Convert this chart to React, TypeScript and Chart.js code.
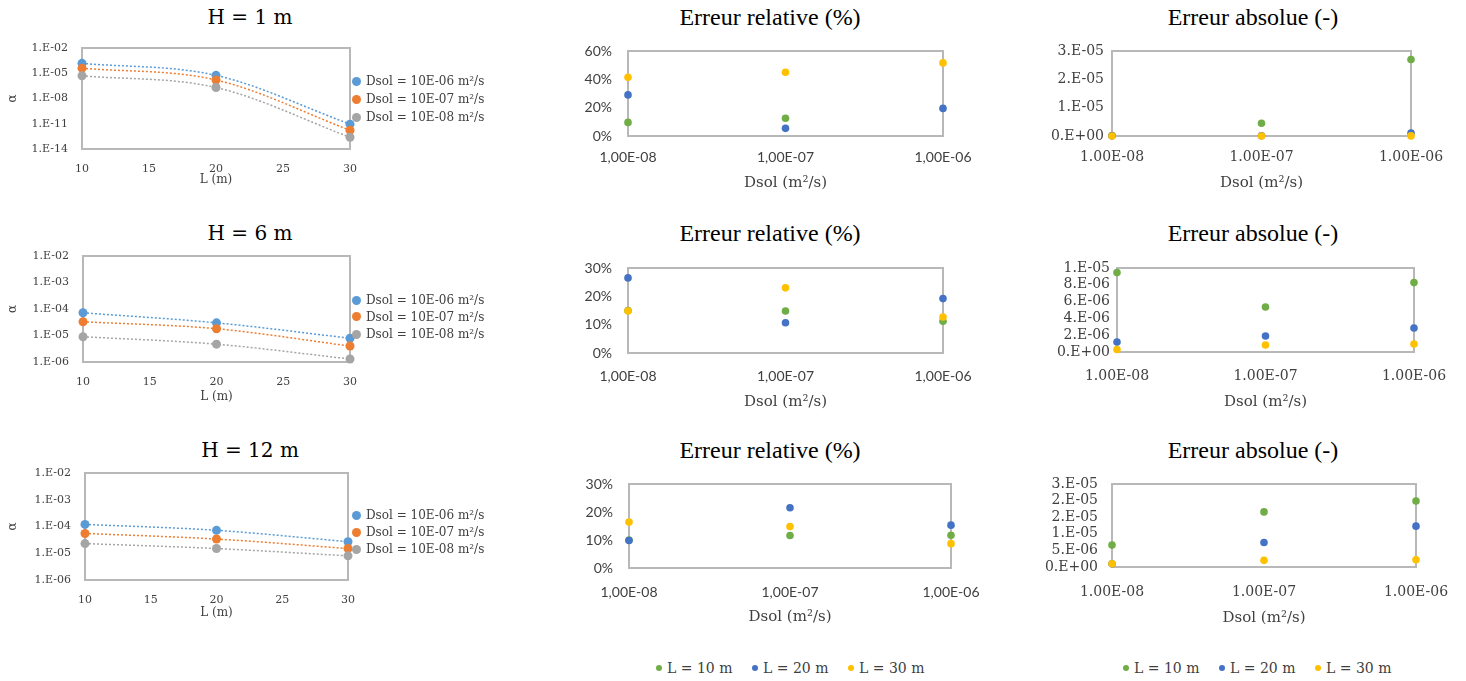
import React, { useEffect, useRef } from "react";
import { Chart, registerables } from "chart.js";
Chart.register(...registerables);

// ---------------- DATA ----------------
const L_VALUES = [10, 20, 30];
const L_TICKS = [10, 15, 20, 25, 30];
const L_TICK_LABELS = ["10", "15", "20", "25", "30"];

const DSOL_VALUES = [1e-8, 1e-7, 1e-6];
const DSOL_LABELS_REL = ["1,00E-08", "1,00E-07", "1,00E-06"];
const DSOL_LABELS_ABS = ["1.00E-08", "1.00E-07", "1.00E-06"];

const ALPHA_TICKS_H1 = [1e-14, 1e-11, 1e-8, 1e-5, 1e-2];
const ALPHA_LABELS_H1 = ["1.E-14", "1.E-11", "1.E-08", "1.E-05", "1.E-02"];
const ALPHA_TICKS_H6 = [1e-6, 1e-5, 1e-4, 1e-3, 1e-2];
const ALPHA_LABELS_H6 = ["1.E-06", "1.E-05", "1.E-04", "1.E-03", "1.E-02"];
const ALPHA_TICKS_H12 = [1e-6, 1e-5, 1e-4, 1e-3, 1e-2];
const ALPHA_LABELS_H12 = ["1.E-06", "1.E-05", "1.E-04", "1.E-03", "1.E-02"];

// alpha vs L, per Dsol
const H1_D6 = [1.5e-4, 5.6e-6, 9e-12];
const H1_D7 = [4e-5, 1.6e-6, 1.7e-12];
const H1_D8 = [5e-6, 2e-7, 2.5e-13];
const H6_D6 = [7.2e-5, 3.0e-5, 7.9e-6];
const H6_D7 = [3.3e-5, 1.8e-5, 4e-6];
const H6_D8 = [9e-6, 4.7e-6, 1.3e-6];
const H12_D6 = [1.2e-4, 7.2e-5, 2.7e-5];
const H12_D7 = [5.5e-5, 3.4e-5, 1.5e-5];
const H12_D8 = [2.3e-5, 1.5e-5, 8e-6];

// relative error (%) vs Dsol, per L
const REL_H1_L10 = [9.6, 12.5, null];
const REL_H1_L20 = [29, 5.4, 19.5];
const REL_H1_L30 = [41.5, 45, 51.6];
const REL_H6_L10 = [15, 14.8, 11.2];
const REL_H6_L20 = [26.5, 10.7, 19.2];
const REL_H6_L30 = [14.8, 23, 12.7];
const REL_H12_L10 = [10, 11.6, 11.7];
const REL_H12_L20 = [9.8, 21.5, 15.3];
const REL_H12_L30 = [16.4, 14.8, 8.7];

const REL_TICKS_H1 = [0, 20, 40, 60];
const REL_LABELS_H1 = ["0%", "20%", "40%", "60%"];
const REL_TICKS_H6 = [0, 10, 20, 30];
const REL_LABELS_H6 = ["0%", "10%", "20%", "30%"];
const REL_TICKS_H12 = [0, 10, 20, 30];
const REL_LABELS_H12 = ["0%", "10%", "20%", "30%"];

// absolute error vs Dsol, per L
const ABS_H1_L10 = [2e-7, 4.5e-6, 2.7e-5];
const ABS_H1_L20 = [5e-8, 1e-7, 1e-6];
const ABS_H1_L30 = [1e-8, 2e-8, 3e-8];
const ABS_H6_L10 = [9.45e-6, 5.36e-6, 8.26e-6];
const ABS_H6_L20 = [1.19e-6, 1.9e-6, 2.86e-6];
const ABS_H6_L30 = [3e-7, 8.3e-7, 9.5e-7];
const ABS_H12_L10 = [6.6e-6, 1.66e-5, 1.99e-5];
const ABS_H12_L20 = [1e-6, 7.4e-6, 1.23e-5];
const ABS_H12_L30 = [1e-6, 2e-6, 2.2e-6];

const ABS_TICKS_H1 = [0, 1e-5, 2e-5, 3e-5];
const ABS_LABELS_H1 = ["0.E+00", "1.E-05", "2.E-05", "3.E-05"];
const ABS_TICKS_H6 = [0, 2e-6, 4e-6, 6e-6, 8e-6, 1e-5];
const ABS_LABELS_H6 = ["0.E+00", "2.E-06", "4.E-06", "6.E-06", "8.E-06", "1.E-05"];
const ABS_TICKS_H12 = [0, 5e-6, 1e-5, 1.5e-5, 2e-5, 2.5e-5];
const ABS_LABELS_H12 = ["0.E+00", "5.E-06", "1.E-05", "2.E-05", "2.E-05", "3.E-05"];

const DSOL_SERIES_NAMES = ["Dsol = 10E-06 m²/s", "Dsol = 10E-07 m²/s", "Dsol = 10E-08 m²/s"];
const L_SERIES_NAMES = ["L = 10 m", "L = 20 m", "L = 30 m"];

// ---------------- STYLE ----------------
const C_BLUE_L = "#5B9BD5";
const C_ORANGE = "#ED7D31";
const C_GRAY = "#A5A5A5";
const C_GREEN = "#70AD47";
const C_BLUE = "#4472C4";
const C_YELLOW = "#FFC000";
const LEFT_COLORS = [C_BLUE_L, C_ORANGE, C_GRAY];
const RIGHT_COLORS = [C_GREEN, C_BLUE, C_YELLOW];

const F_MATH = "'DejaVu Serif', serif";
const F_TIMES = "'Liberation Serif', serif";
const F_SANS = "Lato, 'Liberation Sans', sans-serif";
const TXT = "#404040";

const framePlugin = {
  id: "frame",
  beforeDatasetsDraw(chart: any) {
    const { ctx, chartArea: a } = chart;
    ctx.save();
    ctx.strokeStyle = "#B8B8B8";
    ctx.lineWidth = 2;
    ctx.strokeRect(a.left, a.top, a.right - a.left, a.bottom - a.top);
    ctx.restore();
  },
};

type Spec = {
  rect: [number, number, number, number];
  AW: number;
  PR: number;
  xLabelDy: number;
  xTitleDy: number;
  xType: string;
  xMin: number;
  xMax: number;
  xTicks: number[];
  xLabels: string[];
  yType: string;
  yMin: number;
  yMax: number;
  yTicks: number[];
  yLabels: string[];
  yPad: number;
  tickFont: { family: string; size: number };
  xTitle: string;
  xTitleSize: number;
  yTitle?: string;
  datasets: any[];
};

function ChartBox({ spec }: { spec: Spec }) {
  const ref = useRef<HTMLCanvasElement | null>(null);
  const [l, t, r, b] = spec.rect;
  const tickLH = spec.tickFont.size * 1.2;
  const titleLH = spec.xTitleSize * 1.2;
  // chart.js adds tick padding + half label size around the scales
  const PT = Math.ceil(tickLH / 2 + spec.yPad) + 1;
  const AH = Math.round(spec.xTitleDy + titleLH / 2);
  const W = r - l + spec.AW + spec.PR;
  const H = b - t + PT + AH;
  const left = l - spec.AW;
  const top = t - PT;

  useEffect(() => {
    if (!ref.current) return;
    const chart = new Chart(ref.current, {
      type: "scatter",
      data: { datasets: spec.datasets },
      plugins: [framePlugin],
      options: {
        animation: false,
        responsive: false,
        devicePixelRatio: 1,
        events: [],
        layout: { padding: { left: 0, top: PT, right: spec.PR, bottom: 0 } },
        plugins: { legend: { display: false }, tooltip: { enabled: false }, title: { display: false } },
        scales: {
          x: {
            type: spec.xType as any,
            min: spec.xMin,
            max: spec.xMax,
            afterBuildTicks: (s: any) => {
              s.ticks = spec.xTicks.map((v) => ({ value: v }));
            },
            afterFit: (s: any) => {
              s.height = AH;
            },
            grid: { display: false, drawTicks: false },
            border: { display: false },
            ticks: {
              autoSkip: false,
              maxRotation: 0,
              minRotation: 0,
              padding: spec.xLabelDy - tickLH / 2,
              color: TXT,
              font: { family: spec.tickFont.family, size: spec.tickFont.size },
              callback: (_v: any, i: number) => spec.xLabels[i],
            },
            title: {
              display: true,
              text: spec.xTitle,
              color: TXT,
              padding: { top: 0, bottom: 0 },
              font: { family: F_MATH, size: spec.xTitleSize },
            },
          },
          y: {
            type: spec.yType as any,
            min: spec.yMin,
            max: spec.yMax,
            afterBuildTicks: (s: any) => {
              s.ticks = spec.yTicks.map((v) => ({ value: v }));
            },
            afterFit: (s: any) => {
              s.width = spec.AW;
            },
            grid: { display: false, drawTicks: false },
            border: { display: false },
            ticks: {
              autoSkip: false,
              padding: spec.yPad,
              color: TXT,
              font: { family: spec.tickFont.family, size: spec.tickFont.size },
              callback: (_v: any, i: number) => spec.yLabels[i],
            },
            title: spec.yTitle
              ? {
                  display: true,
                  text: spec.yTitle,
                  color: TXT,
                  padding: { top: 6, bottom: 0 },
                  font: { family: F_MATH, size: 12 },
                }
              : { display: false },
          },
        },
      } as any,
    });
    return () => chart.destroy();
  }, []);

  return (
    <div style={{ position: "absolute", left, top, width: W, height: H }}>
      <canvas ref={ref} width={W} height={H} style={{ width: W, height: H, display: "block" }} />
    </div>
  );
}

function pts(xs: number[], ys: (number | null)[]) {
  return xs.map((x, i) => ({ x, y: ys[i] }));
}

function leftDatasets(series: number[][]) {
  const trends = series.map((ys, i) => ({
    data: pts(L_VALUES, ys),
    showLine: true,
    borderColor: LEFT_COLORS[i],
    borderWidth: 1.5,
    borderDash: [2, 2],
    cubicInterpolationMode: "monotone",
    pointRadius: 0,
    clip: false,
    order: 10 + i,
  }));
  const marks = series.map((ys, i) => ({
    data: pts(L_VALUES, ys),
    backgroundColor: LEFT_COLORS[i],
    borderWidth: 0,
    pointRadius: 4.5,
    clip: false,
    order: 2 - i,
  }));
  return [...trends, ...marks];
}

function rightDatasets(series: (number | null)[][]) {
  return series.map((ys, i) => ({
    data: pts(DSOL_VALUES, ys),
    backgroundColor: RIGHT_COLORS[i],
    borderWidth: 0,
    pointRadius: 3.8,
    clip: false,
    order: 2 - i,
  }));
}

const leftBase = {
  PR: 30,
  xLabelDy: 20,
  xType: "linear",
  xMin: 10,
  xMax: 30,
  xTicks: L_TICKS,
  xLabels: L_TICK_LABELS,
  yType: "logarithmic",
  yPad: 14,
  tickFont: { family: F_MATH, size: 11 },
  xTitle: "L (m)",
  xTitleSize: 12,
  yTitle: "α",
};

const midBase = {
  AW: 75,
  PR: 60,
  xType: "logarithmic",
  xMin: 1e-8,
  xMax: 1e-6,
  xTicks: DSOL_VALUES,
  xLabels: DSOL_LABELS_REL,
  yType: "linear",
  yMin: 0,
  yPad: 16,
  tickFont: { family: F_SANS, size: 14 },
  xTitle: "Dsol (m²/s)",
  xTitleSize: 15,
};

const rightBase = {
  AW: 75,
  PR: 60,
  xType: "logarithmic",
  xMin: 1e-8,
  xMax: 1e-6,
  xTicks: DSOL_VALUES,
  xLabels: DSOL_LABELS_ABS,
  yType: "linear",
  yMin: 0,
  tickFont: { family: F_MATH, size: 14 },
  xTitle: "Dsol (m²/s)",
  xTitleSize: 15,
};

const SPECS: Spec[] = [
  { ...leftBase, rect: [82, 48, 350, 149], AW: 82, xTitleDy: 31, yMin: 1e-14, yMax: 1e-2, yTicks: ALPHA_TICKS_H1, yLabels: ALPHA_LABELS_H1, datasets: leftDatasets([H1_D6, H1_D7, H1_D8]) } as Spec,
  { ...leftBase, rect: [83, 256, 350, 362], AW: 83, xTitleDy: 35, yMin: 1e-6, yMax: 1e-2, yTicks: ALPHA_TICKS_H6, yLabels: ALPHA_LABELS_H6, datasets: leftDatasets([H6_D6, H6_D7, H6_D8]) } as Spec,
  { ...leftBase, rect: [85, 473, 348, 580], AW: 85, xTitleDy: 33, yMin: 1e-6, yMax: 1e-2, yTicks: ALPHA_TICKS_H12, yLabels: ALPHA_LABELS_H12, datasets: leftDatasets([H12_D6, H12_D7, H12_D8]) } as Spec,
  { ...midBase, rect: [628, 51, 943, 136], xLabelDy: 21, xTitleDy: 47, yMax: 60, yTicks: REL_TICKS_H1, yLabels: REL_LABELS_H1, datasets: rightDatasets([REL_H1_L10, REL_H1_L20, REL_H1_L30]) } as Spec,
  { ...midBase, rect: [628, 268, 943, 353], xLabelDy: 23, xTitleDy: 49, yMax: 30, yTicks: REL_TICKS_H6, yLabels: REL_LABELS_H6, datasets: rightDatasets([REL_H6_L10, REL_H6_L20, REL_H6_L30]) } as Spec,
  { ...midBase, rect: [629, 484, 951, 568], xLabelDy: 24.5, xTitleDy: 49, yMax: 30, yTicks: REL_TICKS_H12, yLabels: REL_LABELS_H12, datasets: rightDatasets([REL_H12_L10, REL_H12_L20, REL_H12_L30]) } as Spec,
  { ...rightBase, rect: [1112, 51, 1411, 136], xLabelDy: 21, xTitleDy: 47, yPad: 8, yMax: 3e-5, yTicks: ABS_TICKS_H1, yLabels: ABS_LABELS_H1, datasets: rightDatasets([ABS_H1_L10, ABS_H1_L20, ABS_H1_L30]) } as Spec,
  { ...rightBase, rect: [1117, 268, 1414, 352], xLabelDy: 24, xTitleDy: 50, yPad: 7, yMax: 1e-5, yTicks: ABS_TICKS_H6, yLabels: ABS_LABELS_H6, datasets: rightDatasets([ABS_H6_L10, ABS_H6_L20, ABS_H6_L30]) } as Spec,
  { ...rightBase, rect: [1112, 484, 1416, 567], xLabelDy: 25, xTitleDy: 51, yPad: 14, yMax: 2.5e-5, yTicks: ABS_TICKS_H12, yLabels: ABS_LABELS_H12, datasets: rightDatasets([ABS_H12_L10, ABS_H12_L20, ABS_H12_L30]) } as Spec,
];

const TITLES = [
  { text: "H = 1 m", cx: 250, cy: 17, font: F_MATH, size: 20 },
  { text: "H = 6 m", cx: 250, cy: 233, font: F_MATH, size: 20 },
  { text: "H = 12 m", cx: 250, cy: 450, font: F_MATH, size: 20 },
  { text: "Erreur relative (%)", cx: 770, cy: 17, font: F_TIMES, size: 24 },
  { text: "Erreur relative (%)", cx: 770, cy: 233, font: F_TIMES, size: 24 },
  { text: "Erreur relative (%)", cx: 770, cy: 450, font: F_TIMES, size: 24 },
  { text: "Erreur absolue (-)", cx: 1253, cy: 17, font: F_TIMES, size: 24 },
  { text: "Erreur absolue (-)", cx: 1253, cy: 233, font: F_TIMES, size: 24 },
  { text: "Erreur absolue (-)", cx: 1253, cy: 450, font: F_TIMES, size: 24 },
];

const LEFT_LEGENDS = [
  { x: 352, ys: [81, 99, 117] },
  { x: 352, ys: [300, 316.5, 334] },
  { x: 352, ys: [515, 532, 549] },
];

const BOTTOM_LEGENDS = [
  { y: 668, xs: [656, 752, 848] },
  { y: 668, xs: [1123, 1219, 1315] },
];

export default function App() {
  return (
    <div style={{ position: "absolute", left: 0, top: 0, width: 1466, height: 681, background: "#fff", overflow: "hidden" }}>
      {TITLES.map((tt, i) => (
        <div
          key={"t" + i}
          style={{
            position: "absolute",
            left: tt.cx - 200,
            width: 400,
            top: tt.cy - 15,
            height: 30,
            lineHeight: "30px",
            textAlign: "center",
            fontFamily: tt.font,
            fontSize: tt.size,
            color: "#000",
            whiteSpace: "nowrap",
          }}
        >
          {tt.text}
        </div>
      ))}
      {SPECS.map((s, i) => (
        <ChartBox key={"c" + i} spec={s} />
      ))}
      {LEFT_LEGENDS.map((lg, i) =>
        lg.ys.map((y, j) => (
          <div
            key={"ll" + i + "_" + j}
            style={{ position: "absolute", left: lg.x, top: y - 8, height: 16, display: "flex", alignItems: "center", whiteSpace: "nowrap" }}
          >
            <span style={{ width: 9, height: 9, borderRadius: "50%", background: LEFT_COLORS[j], display: "inline-block" }} />
            <span style={{ marginLeft: 5, fontFamily: F_MATH, fontSize: 12, color: TXT, lineHeight: "16px" }}>{DSOL_SERIES_NAMES[j]}</span>
          </div>
        ))
      )}
      {BOTTOM_LEGENDS.map((lg, i) =>
        lg.xs.map((x, j) => (
          <div
            key={"bl" + i + "_" + j}
            style={{ position: "absolute", left: x, top: lg.y - 9, height: 18, display: "flex", alignItems: "center", whiteSpace: "nowrap" }}
          >
            <span style={{ width: 6, height: 6, borderRadius: "50%", background: RIGHT_COLORS[j], display: "inline-block" }} />
            <span style={{ marginLeft: 5, fontFamily: F_MATH, fontSize: 14, color: TXT, lineHeight: "18px" }}>{L_SERIES_NAMES[j]}</span>
          </div>
        ))
      )}
    </div>
  );
}
